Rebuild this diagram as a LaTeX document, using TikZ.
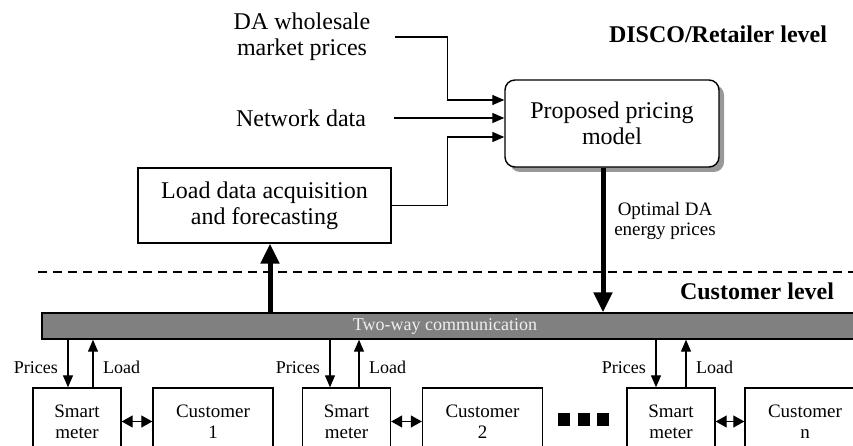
\documentclass[tikz,border=0pt]{standalone}
\usepackage{fontspec}
\setmainfont{Liberation Serif}
\usetikzlibrary{positioning}
\usetikzlibrary{arrows.meta,shadows}

\tikzset{
    plain/.style={align=center, font=\fontsize{24}{26}\selectfont},
    box/.style={draw, line width=1.4pt, align=center, font=\fontsize{24}{26}\selectfont},
    meterbox/.style={draw, line width=1.4pt, align=center, minimum width=88pt,
        minimum height=67pt, font=\fontsize{19}{21}\selectfont},
    custbox/.style={meterbox, minimum width=120pt},
    lbl/.style={inner sep=1pt, font=\fontsize{18}{20}\selectfont},
    level/.style={font=\fontsize{24}{26}\selectfont\bfseries},
    thinarrow/.style={line width=1.3pt, -{Triangle[length=12pt,width=10pt]}},
    fatarrow/.style={line width=5pt, -{Triangle[length=20pt,width=18pt]}},
    botharrow/.style={line width=1.3pt,
        {Triangle[length=11pt,width=12pt]}-{Triangle[length=11pt,width=12pt]}}
}

\begin{document}
\begin{tikzpicture}[x=1pt,y=1pt]
    \useasboundingbox (0,0) rectangle (853,445);
    \clip (0,0) rectangle (853,445);

    % retailer side
    \node[plain] (whole) at (302,408) {DA wholesale\\market prices};
    \node[plain] (net) at (301,327) {Network data};
    \node[box, minimum width=253pt, minimum height=75pt] (load) at (264.5,239.5)
        {Load data acquisition\\and forecasting};
    \node[box, rounded corners=10pt, minimum width=214pt, minimum height=87pt,
        fill=white, drop shadow={shadow xshift=5pt, shadow yshift=-5pt, fill=gray!80, opacity=1}]
        (model) at (612,321.5) {Proposed pricing\\model};
    \node[level] (disco) at (718,411) {DISCO/Retailer level};

    \coordinate (in1) at ([yshift=23.5pt]model.west);
    \coordinate (in3) at ([yshift=-13.5pt]model.west);

    \draw[thinarrow, shorten <=21pt] (whole.east) -| ([xshift=-57pt]in1) -- (in1);
    \draw[thinarrow, shorten <=24pt] (net.east) -- (model.west |- net.east);
    \draw[thinarrow] (load.east) -| ([xshift=-57pt]in3) -- (in3);

    \draw[dashed, line width=1.2pt, dash pattern=on 9pt off 6pt] (38,173) -- (853,173);

    % communication bar
    \node[draw, line width=1.4pt, fill=gray, minimum width=828pt, minimum height=26pt]
        (bar) at (456,119) {};
    \node[lbl, text=gray!12] (twoway) at (445,119) {Two-way communication};
    \node[level] (cust) at (757,154) {Customer level};

    \draw[fatarrow] ([xshift=-9pt]model.south) -- ([xshift=-9pt]model.south |- bar.north);
    \draw[fatarrow] ([xshift=5.5pt]load.south |- bar.north) -- ([xshift=5.5pt]load.south);
    \node[lbl, align=center, font=\fontsize{19}{20}\selectfont] (opt) at (665,224)
        {Optimal DA\\energy prices};

    % customers
    \foreach \n/\sx/\cx/\po/\lo/\lab in {1/77/213/-9/16/1, 2/346.5/482.5/-16.5/12.5/2, 3/671/805/-15/15/n} {
        \node[meterbox] (sm\n) at (\sx,23.5) {Smart\\meter};
        \node[custbox] (cu\n) at (\cx,23.5) {Customer\\\lab};
        \draw[botharrow] (sm\n) -- (cu\n);
        \coordinate (pr\n) at ([xshift=\po pt]sm\n.north);
        \coordinate (ld\n) at ([xshift=\lo pt]sm\n.north);
        \draw[thinarrow] (pr\n |- bar.south) -- (pr\n);
        \draw[thinarrow] (ld\n) -- (ld\n |- bar.south);
        \node[lbl, above left=12pt and 9pt of pr\n] {Prices};
        \node[lbl, above right=12pt and 9pt of ld\n] {Load};
    }

    \foreach \x in {564,583.5,603}
        \fill (\x-6,19) rectangle (\x+6,32);
\end{tikzpicture}
\end{document}
